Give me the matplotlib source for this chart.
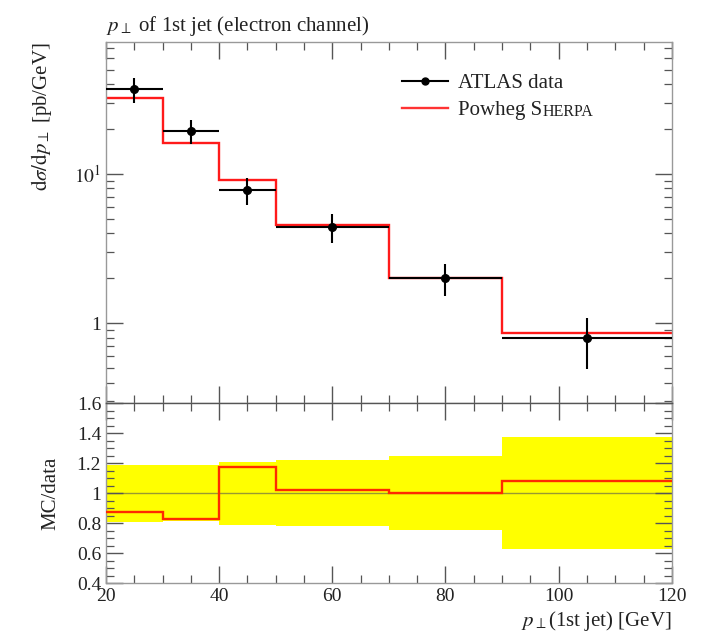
import numpy as np
import matplotlib.pyplot as plt
from matplotlib.lines import Line2D
from matplotlib.ticker import MultipleLocator, FixedLocator, FuncFormatter, NullFormatter

plt.rcParams['font.family'] = ['Liberation Serif', 'DejaVu Serif']
plt.rcParams['mathtext.fontset'] = 'stix'

# bins in pT of the leading jet [GeV]
edges = [20, 30, 40, 50, 70, 90, 120]
# ATLAS measurement and its uncertainty [pb/GeV]
data = [36.9, 19.4, 7.8, 4.43, 2.0, 0.79]
data_err = [7.0, 3.6, 1.64, 0.97, 0.49, 0.295]
# Powheg+Sherpa prediction [pb/GeV]
mc = [32.2, 16.1, 9.15, 4.52, 2.0, 0.855]

edges = np.array(edges, dtype=float)
data = np.array(data)
data_err = np.array(data_err)
mc = np.array(mc)
centers = 0.5 * (edges[1:] + edges[:-1])
halfw = 0.5 * (edges[1:] - edges[:-1])
rel = data_err / data
ratio = mc / data

W, H = 702, 642
fig = plt.figure(figsize=(W / 100, H / 100), dpi=100)
ax = fig.add_axes([0.151, 0.372, 0.806, 0.562])
rax = fig.add_axes([0.151, 0.0915, 0.806, 0.2805], sharex=ax)

spine_col = '#999999'
tick_col = '#555555'
txt_col = '#222222'


def style(a):
    for s in a.spines.values():
        s.set_color(spine_col)
        s.set_linewidth(1.0)
    a.tick_params(which='both', direction='in', top=True, right=True,
                  colors=tick_col, labelcolor=txt_col, labelsize=14)
    a.tick_params(which='major', length=12, width=1.0)
    a.tick_params(which='minor', length=5.5, width=0.9)


# main panel
ax.stairs(mc, edges, baseline=None, color='#ff1a1a', lw=1.7, zorder=2)
ax.errorbar(centers, data, xerr=halfw, yerr=data_err, fmt='o', color='black',
            ms=5.5, lw=1.5, capsize=0, zorder=3)
ax.set_yscale('log')
ax.set_xlim(20, 120)
ax.set_ylim(0.291, 76)
ax.yaxis.set_major_locator(FixedLocator([1, 10]))
ax.yaxis.set_major_formatter(FuncFormatter(lambda v, p: '1' if v < 5 else r'$10^1$'))
ax.yaxis.set_minor_locator(FixedLocator([k * 10.0 ** d for d in (-1, 0, 1) for k in range(2, 10)]))
ax.yaxis.set_minor_formatter(NullFormatter())
ax.xaxis.set_major_locator(MultipleLocator(20))
ax.xaxis.set_minor_locator(MultipleLocator(5))
style(ax)
ax.tick_params(axis='x', which='both', labelbottom=False)
ax.set_ylabel(r'$\mathrm{d}\sigma/\mathrm{d}p_\perp$ [pb/GeV]', loc='top', fontsize=15,
              labelpad=14, color=txt_col)
ax.set_title(r'$p_\perp$ of 1st jet (electron channel)', loc='left', fontsize=15, pad=8,
             color=txt_col)

handles = [Line2D([], [], color='black', marker='o', ms=5, lw=1.5),
           Line2D([], [], color='#ff3333', lw=1.7)]
leg = ax.legend(handles, ['ATLAS data', 'Powheg S'], loc='upper left',
                bbox_to_anchor=(0.49, 0.965), frameon=False, fontsize=15,
                handlelength=2.2, handletextpad=0.5, labelspacing=0.35)
for t in leg.get_texts():
    t.set_color(txt_col)

# ratio panel
rax.stairs(1 + rel, edges, baseline=1 - rel, fill=True, color='#ffff00', zorder=1)
rax.axhline(1, color='#555555', lw=1.0, alpha=0.6, zorder=2)
rax.stairs(ratio, edges, baseline=None, color='#ff2a00', lw=1.7, zorder=3)
rax.set_ylim(0.4, 1.6)
rax.yaxis.set_major_locator(MultipleLocator(0.2))
rax.yaxis.set_minor_locator(MultipleLocator(0.05))
rax.yaxis.set_major_formatter(FuncFormatter(lambda v, p: '1' if abs(v - 1) < 1e-6 else '%.1f' % v))
rax.xaxis.set_major_locator(MultipleLocator(20))
rax.xaxis.set_minor_locator(MultipleLocator(5))
style(rax)
rax.spines['top'].set_color('#555555')
rax.set_ylabel('MC/data', fontsize=15, labelpad=12, color=txt_col)
rax.set_xlabel(r'$p_\perp$(1st jet) [GeV]', loc='right', fontsize=15, labelpad=3, color=txt_col)

# small caps tail of the generator name, placed after the legend text
fig.canvas.draw()
bb = leg.get_texts()[1].get_window_extent()
fig.text(bb.x1 / W + 0.001, bb.y0 / H, 'HERPA', fontsize=11.5, color=txt_col,
         ha='left', va='bottom')

fig.savefig('out.png', dpi=100)
